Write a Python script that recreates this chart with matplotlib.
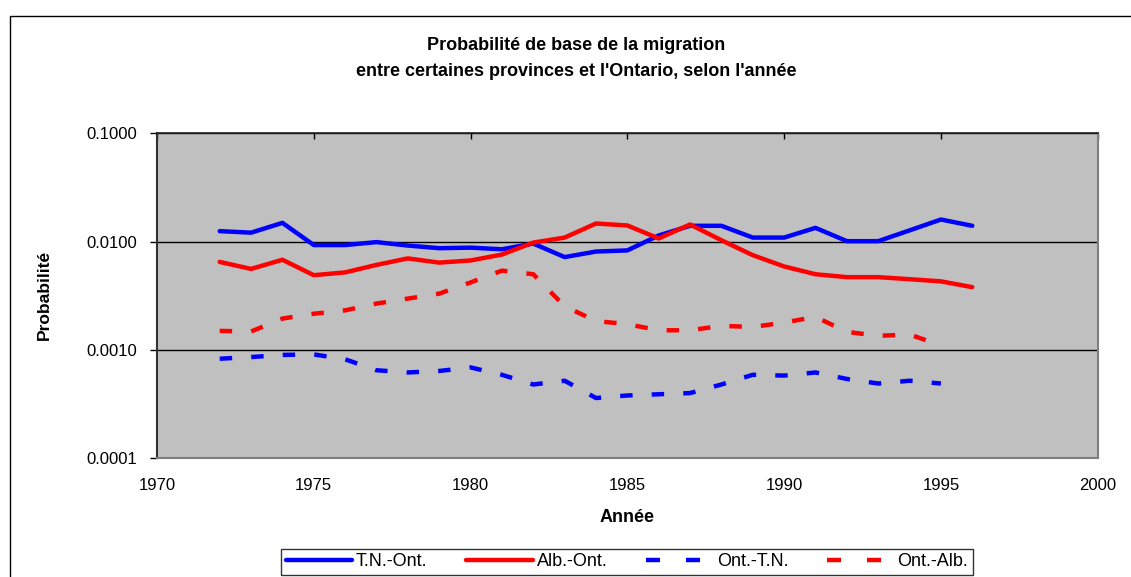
import matplotlib
matplotlib.use('Agg')
import matplotlib.pyplot as plt
from matplotlib.ticker import FixedLocator, FuncFormatter, NullLocator
from matplotlib.patches import Rectangle
from matplotlib.lines import Line2D

# ---------------- data ----------------
years_in = list(range(1972, 1997))
tn_ont = [0.0125, 0.0121, 0.0149, 0.0093, 0.0093, 0.0099, 0.0092, 0.0087, 0.0088,
          0.0085, 0.0096, 0.0072, 0.0081, 0.0083, 0.0114, 0.0140, 0.0140, 0.0109,
          0.0109, 0.0134, 0.0101, 0.0101, 0.0127, 0.0160, 0.0140]
alb_ont = [0.0065, 0.0056, 0.0068, 0.0049, 0.0052, 0.0061, 0.0070, 0.0064, 0.0067,
           0.0076, 0.0098, 0.0109, 0.0147, 0.0141, 0.0107, 0.0144, 0.0103, 0.0075,
           0.0059, 0.0050, 0.0047, 0.0047, 0.0045, 0.0043, 0.0038]
years_out = list(range(1972, 1996))
ont_tn = [0.00083, 0.00086, 0.00090, 0.00091, 0.00082, 0.00065, 0.00062, 0.00064,
          0.00069, 0.00059, 0.00048, 0.00052, 0.00036, 0.00038, 0.00039, 0.00040,
          0.00048, 0.00059, 0.00058, 0.00062, 0.00054, 0.00049, 0.00052, 0.00049]
ont_alb = [0.00150, 0.00148, 0.00195, 0.00216, 0.00232, 0.00268, 0.00298, 0.00331,
           0.00420, 0.00540, 0.00500, 0.00253, 0.00185, 0.00173, 0.00152, 0.00152,
           0.00167, 0.00163, 0.00179, 0.00202, 0.00147, 0.00135, 0.00139, 0.00110]

series_labels = ['T.N.-Ont.', 'Alb.-Ont.', 'Ont.-T.N.', 'Ont.-Alb.']
y_ticks = [0.0001, 0.001, 0.01, 0.1]
x_ticks = [1970, 1975, 1980, 1985, 1990, 1995, 2000]
title_lines = ["Probabilité de base de la migration",
               "entre certaines provinces et l'Ontario, selon l'année"]
x_label = 'Année'
y_label = 'Probabilité'

# ---------------- figure ----------------
W, H = 1131, 577
fig = plt.figure(figsize=(W / 100, H / 100), dpi=100)
fig.patch.set_facecolor('white')
plt.rcParams['font.family'] = ['Liberation Sans', 'DejaVu Sans']

# outer chart border
fig.patches.append(Rectangle((10 / W, -0.05), 1.2, 1 - 15.7 / H + 0.05,
                             transform=fig.transFigure, fill=False,
                             edgecolor='black', linewidth=1.0, zorder=0))

left, right = 157 / W, 1097.7 / W
bottom, top = 1 - 458.3 / H, 1 - 133.3 / H
ax = fig.add_axes([left, bottom, right - left, top - bottom])
ax.set_facecolor('#C0C0C0')

blue, red = '#0000FF', '#FF0000'
lw = 3.2
dash = (2.8, 4.3)
ax.plot(years_in, tn_ont, color=blue, lw=lw,
        solid_joinstyle='round', solid_capstyle='round', zorder=3)
ax.plot(years_in, alb_ont, color=red, lw=lw,
        solid_joinstyle='round', solid_capstyle='round', zorder=3)
ax.plot(years_out, ont_tn, color=blue, lw=lw, dashes=dash,
        dash_capstyle='butt', zorder=3)
ax.plot(years_out, ont_alb, color=red, lw=lw, dashes=dash,
        dash_capstyle='butt', zorder=3)

ax.set_yscale('log')
ax.set_ylim(0.0001, 0.1)
ax.set_xlim(1970, 2000)
ax.yaxis.set_major_locator(FixedLocator(y_ticks))
ax.yaxis.set_minor_locator(NullLocator())
ax.yaxis.set_major_formatter(FuncFormatter(lambda v, p: f'{v:.4f}'))
ax.xaxis.set_major_locator(FixedLocator(x_ticks))
ax.xaxis.set_major_formatter(FuncFormatter(lambda v, p: f'{int(round(v))}'))

ax.grid(True, axis='y', which='major', color='black', lw=1.0, zorder=1)
ax.set_axisbelow(True)

for s in ['right', 'bottom']:
    ax.spines[s].set_color('#808080')
    ax.spines[s].set_linewidth(1.5)
ax.spines['left'].set_color('#303030')
ax.spines['left'].set_linewidth(1.5)
ax.spines['top'].set_color('#202020')
ax.spines['top'].set_linewidth(1.2)

ax.tick_params(axis='y', which='major', direction='out', length=5, width=1,
               color='black', pad=9, labelsize=12, labelcolor='black')
ax.tick_params(axis='x', which='major', bottom=False, top=True, labelbottom=True,
               labeltop=False, direction='in', length=4, width=1, color='black',
               pad=14, labelsize=12)

fig.text(576 / W, 1 - 50 / H, title_lines[0], ha='center',
         va='baseline', fontsize=13, fontweight='bold')
fig.text(576 / W, 1 - 76 / H, title_lines[1], ha='center',
         va='baseline', fontsize=13, fontweight='bold')
fig.text(627 / W, 1 - 518 / H, x_label, ha='center', va='center',
         fontsize=13, fontweight='bold')
fig.text(44.5 / W, 1 - 295 / H, y_label, ha='center', va='center',
         rotation=90, fontsize=12.5, fontweight='bold')

leg_dash = (3.15, 5.85)
handles = [
    Line2D([], [], color=blue, lw=lw, solid_capstyle='round'),
    Line2D([], [], color=red, lw=lw, solid_capstyle='round'),
    Line2D([], [], color=blue, lw=lw, dashes=leg_dash, dash_capstyle='butt'),
    Line2D([], [], color=red, lw=lw, dashes=leg_dash, dash_capstyle='butt'),
]
leg = fig.legend(handles, series_labels, loc='center', ncol=4,
                 bbox_to_anchor=(627 / W, 1 - 562 / H),
                 fontsize=13, frameon=True, fancybox=False,
                 edgecolor='black', handlelength=3.7, handletextpad=0.2,
                 columnspacing=2.15, borderpad=0.25, borderaxespad=0)
leg.get_frame().set_linewidth(1.0)

fig.savefig('out.png', dpi=100, facecolor='white')
